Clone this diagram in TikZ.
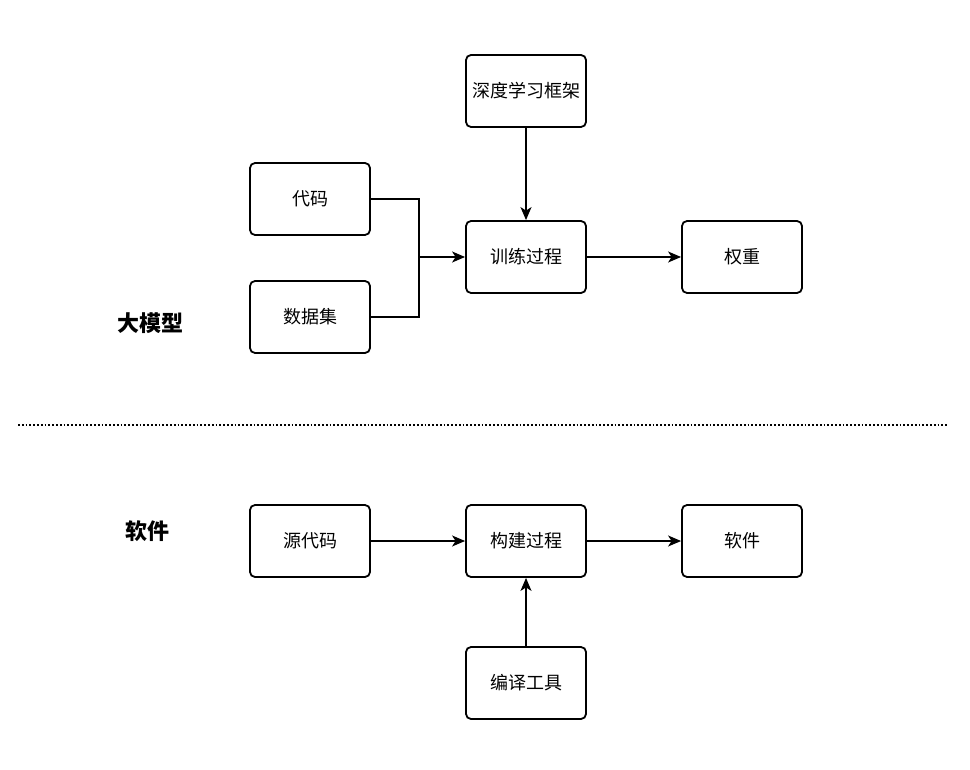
\documentclass[tikz,border=0pt]{standalone}
\usepackage{fontspec}
\setmainfont{Noto Sans CJK SC}
\usetikzlibrary{arrows.meta}
\begin{document}
\begin{tikzpicture}[x=1pt,y=-1pt,
  box/.style={draw,line width=1.8pt,rounded corners=5pt,minimum width=120pt,minimum height=72pt,inner sep=0pt,font=\fontsize{18}{20}\selectfont,anchor=center},
  lbl/.style={font=\fontsize{22}{26}\selectfont\bfseries},
  conn/.style={line width=1.8pt,-{Stealth[length=13pt,width=11pt,inset=3.5pt]}},
  wire/.style={line width=1.8pt}]
\useasboundingbox (0,0) rectangle (970,770);
\node[box] (fw) at (526,91) {深度学习框架};
\node[box] (code) at (310,199) {代码};
\node[box] (train) at (526,257) {训练过程};
\node[box] (wt) at (742,257) {权重};
\node[box] (data) at (310,317) {数据集};
\node[lbl] (llm) at (150,323) {大模型};
\coordinate (jn) at (419,257);
\draw[wire] (code.east) -| (jn);
\draw[wire] (data.east) -| (jn);
\draw[conn] (jn) -- (train.west);
\draw[conn] (fw.south) -- (train.north);
\draw[conn] (train.east) -- (wt.west);
\coordinate (dl) at (18,425);
\coordinate (dr) at (948,425);
\draw[line width=1.8pt,dash pattern=on 1.8pt off 2pt] (dl) -- (dr);
\node[lbl] (swl) at (147,531) {软件};
\node[box] (src) at (310,541) {源代码};
\node[box] (build) at (526,541) {构建过程};
\node[box] (sw) at (742,541) {软件};
\node[box] (comp) at (526,683) {编译工具};
\draw[conn] (src.east) -- (build.west);
\draw[conn] (build.east) -- (sw.west);
\draw[conn] (comp.north) -- (build.south);
\end{tikzpicture}
\end{document}
